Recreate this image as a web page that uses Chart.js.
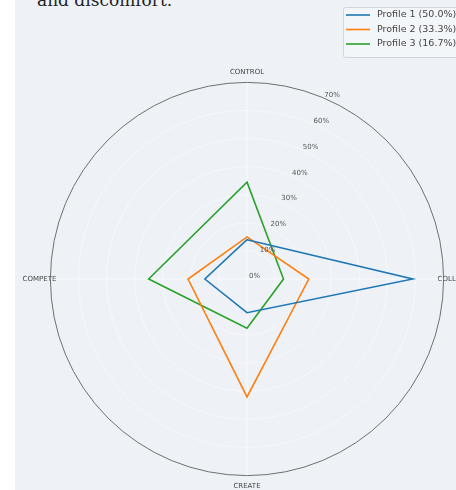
<!DOCTYPE html>
<html>
<head>
<meta charset="utf-8">
<script src="https://cdn.jsdelivr.net/npm/chart.js@4/dist/chart.umd.min.js"></script>
<style>
  html, body { margin: 0; padding: 0; background: #fff; }
  body { width: 456px; height: 490px; overflow: hidden; position: relative; }
  #panel { position: absolute; left: 15px; top: 0; width: 460px; height: 490px; background: #eef2f7; }
  #lead { position: absolute; left: 37px; top: -10px; font: 17px/20px "DejaVu Serif", serif; color: #222; white-space: nowrap; }
  #profiles { position: absolute; left: -30px; top: 0; }
</style>
</head>
<body>
<div id="panel"></div>
<div id="lead">and discomfort.</div>
<canvas id="profiles" width="554" height="490"></canvas>
<script>
const axes = ['CONTROL', 'COLLABORATE', 'CREATE', 'COMPETE'];
const profileNames = ['Profile 1 (50.0%)', 'Profile 2 (33.3%)', 'Profile 3 (16.7%)'];
const profile1 = [14, 59, 12, 15];
const profile2 = [15, 22, 42, 21];
const profile3 = [34.5, 13, 17.5, 35];
const tickLabels = ['0%', '10%', '20%', '30%', '40%', '50%', '60%', '70%'];
const colors = ['#1f77b4', '#ff7f0e', '#2ca02c'];

// tick labels sit on a ray 22.5 deg right of north, like the matplotlib original
const slantTicks = {
    id: 'slantTicks',
    afterDraw(chart) {
        const r = chart.scales.r;
        const ctx = chart.ctx;
        const ang = 22.5 * Math.PI / 180;
        ctx.save();
        ctx.font = '7px "DejaVu Sans"';
        ctx.fillStyle = '#555';
        ctx.textAlign = 'left';
        ctx.textBaseline = 'bottom';
        r.ticks.forEach((t, i) => {
            const d = r.getDistanceFromCenterForValue(t.value);
            ctx.fillText(tickLabels[i], r.xCenter + Math.sin(ang) * d + 2, r.yCenter - Math.cos(ang) * d + 1);
        });
        ctx.restore();
    }
};

// boxed legend in the top right corner
const legendBox = {
    id: 'legendBox',
    afterDraw(chart) {
        const ctx = chart.ctx;
        const x = 373, y = 7, w = 150, h = 50;
        ctx.save();
        ctx.fillStyle = 'rgba(255,255,255,0.3)';
        ctx.strokeStyle = '#d2d5d9';
        ctx.lineWidth = 1;
        ctx.beginPath();
        ctx.roundRect(x + 0.5, y + 0.5, w, h, 2);
        ctx.fill();
        ctx.stroke();
        ctx.font = '9.5px "DejaVu Sans"';
        ctx.textBaseline = 'middle';
        chart.data.datasets.forEach((ds, i) => {
            const ly = y + 8 + i * 14.5;
            ctx.strokeStyle = ds.borderColor;
            ctx.lineWidth = 1.6;
            ctx.beginPath();
            ctx.moveTo(x + 3, ly);
            ctx.lineTo(x + 27, ly);
            ctx.stroke();
            ctx.fillStyle = '#444';
            ctx.fillText(ds.label, x + 34, ly);
        });
        ctx.restore();
    }
};

const series = [profile1, profile2, profile3];

new Chart(document.getElementById('profiles'), {
    type: 'radar',
    data: {
        labels: axes,
        datasets: series.map((vals, i) => ({
            label: profileNames[i],
            data: vals,
            borderColor: colors[i],
            backgroundColor: 'transparent',
            borderWidth: 1.6,
            fill: false,
            pointRadius: 0,
            tension: 0
        }))
    },
    options: {
        responsive: false,
        animation: false,
        layout: { padding: { top: 68, bottom: 0, left: 0, right: 0 } },
        plugins: {
            legend: { display: false },
            tooltip: { enabled: false }
        },
        scales: {
            r: {
                min: 0,
                max: 70,
                ticks: {
                    stepSize: 10,
                    display: false,
                    showLabelBackdrop: false
                },
                grid: {
                    circular: true,
                    color: (c) => c.tick && c.tick.value === 70 ? '#6f6f6f' : 'rgba(255,255,255,0.45)',
                    lineWidth: 1
                },
                angleLines: { color: 'rgba(255,255,255,0.45)' },
                pointLabels: {
                    font: { family: 'DejaVu Sans', size: 7 },
                    color: '#444',
                    padding: (c) => (c.index % 2 === 0 ? 6 : -6)
                }
            }
        }
    },
    plugins: [slantTicks, legendBox]
});
</script>
</body>
</html>
